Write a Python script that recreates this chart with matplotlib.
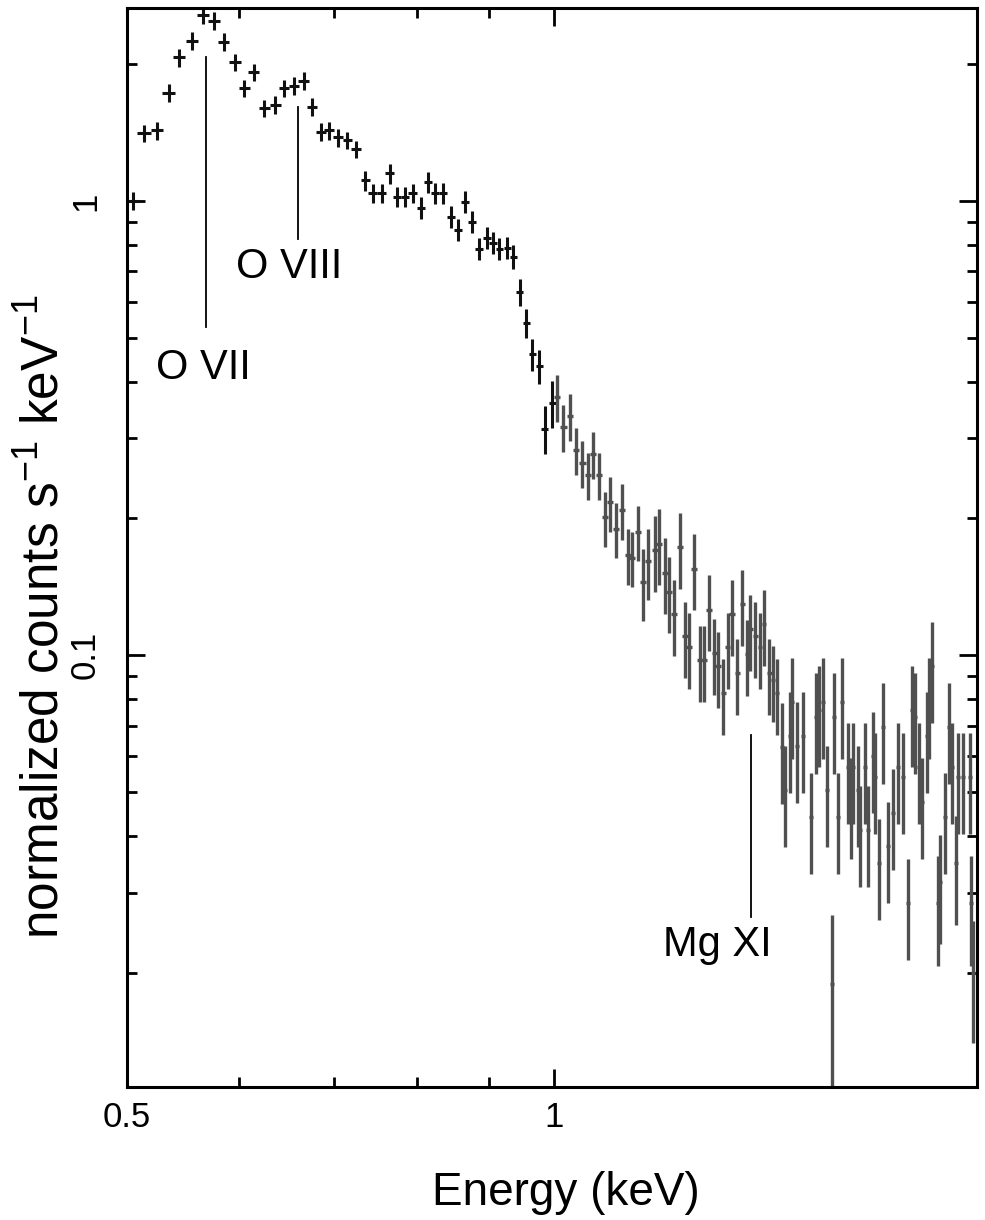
import numpy as np
import matplotlib
matplotlib.use("Agg")
import matplotlib.pyplot as plt
from matplotlib.ticker import FixedLocator, NullFormatter

plt.rcParams['font.family'] = ['Liberation Sans', 'DejaVu Sans']
plt.rcParams['mathtext.fontset'] = 'custom'
plt.rcParams['mathtext.rm'] = 'Liberation Sans'
plt.rcParams['mathtext.it'] = 'Liberation Sans:italic'

# spectrum: bin centre energy (keV), normalized counts s^-1 keV^-1, relative error
energy = [0.505, 0.514, 0.525, 0.535, 0.544, 0.556, 0.566, 0.576, 0.585, 0.596,
          0.605, 0.614, 0.625, 0.636, 0.645, 0.656, 0.666, 0.675, 0.685, 0.694,
          0.704, 0.715, 0.725, 0.736, 0.745, 0.756, 0.766, 0.775, 0.785, 0.795,
          0.806, 0.815, 0.824, 0.835, 0.846, 0.856, 0.865, 0.875, 0.885, 0.897,
          0.906, 0.915, 0.927, 0.936, 0.946, 0.956, 0.965, 0.976, 0.985, 0.997,
          1.005, 1.015, 1.026, 1.036, 1.047, 1.057, 1.065, 1.076, 1.086, 1.095,
          1.106, 1.117, 1.128, 1.135, 1.146, 1.156, 1.165, 1.178, 1.186, 1.198,
          1.205, 1.215, 1.227, 1.237, 1.245, 1.255, 1.267, 1.276, 1.286, 1.297,
          1.305, 1.316, 1.326, 1.335, 1.346, 1.357, 1.368, 1.375, 1.386, 1.397,
          1.406, 1.418, 1.427, 1.436, 1.448, 1.455, 1.467, 1.472, 1.484, 1.498,
          1.518, 1.530, 1.537, 1.548, 1.558, 1.570, 1.575, 1.586, 1.596, 1.612,
          1.620, 1.625, 1.638, 1.643, 1.657, 1.665, 1.678, 1.684, 1.695, 1.706,
          1.720, 1.734, 1.748, 1.762, 1.776, 1.788, 1.797, 1.808, 1.817, 1.832,
          1.838, 1.847, 1.865, 1.871, 1.886, 1.899, 1.908, 1.920, 1.927, 1.942,
          1.964, 1.968, 1.974]
counts = [1.00, 1.41, 1.43, 1.73, 2.07, 2.25, 2.57, 2.49, 2.24, 2.02,
          1.77, 1.92, 1.60, 1.63, 1.77, 1.79, 1.84, 1.61, 1.42, 1.43,
          1.38, 1.36, 1.30, 1.11, 1.04, 1.04, 1.15, 1.02, 1.02, 1.04,
          0.965, 1.10, 1.04, 1.04, 0.922, 0.863, 0.995, 0.899, 0.784, 0.829,
          0.808, 0.784, 0.788, 0.753, 0.630, 0.539, 0.460, 0.433, 0.315, 0.359,
          0.370, 0.318, 0.336, 0.283, 0.265, 0.249, 0.277, 0.249, 0.201, 0.217,
          0.190, 0.209, 0.166, 0.164, 0.187, 0.145, 0.161, 0.170, 0.176, 0.152,
          0.138, 0.123, 0.173, 0.110, 0.104, 0.155, 0.0975, 0.0975, 0.126, 0.101,
          0.0946, 0.0825, 0.104, 0.123, 0.0913, 0.1295, 0.1005, 0.114, 0.110, 0.104,
          0.117, 0.0913, 0.0881, 0.0825, 0.0627, 0.0504, 0.0663, 0.0788, 0.0630, 0.0663,
          0.0440, 0.0730, 0.0756, 0.0788, 0.0504, 0.0189, 0.0730, 0.0440, 0.0788, 0.0567,
          0.0475, 0.0567, 0.0504, 0.0412, 0.0567, 0.0412, 0.0599, 0.0539, 0.0348, 0.0694,
          0.0380, 0.0449, 0.0567, 0.0539, 0.0284, 0.0756, 0.0730, 0.0567, 0.0475, 0.0663,
          0.0788, 0.0946, 0.0284, 0.0316, 0.0440, 0.0694, 0.0567, 0.0348, 0.0539, 0.0539,
          0.0539, 0.0284, 0.0200]
rel_err = [0.045, 0.045, 0.045, 0.045, 0.045, 0.045, 0.045, 0.045, 0.045, 0.045,
           0.045, 0.045, 0.045, 0.045, 0.045, 0.045, 0.045, 0.045, 0.045, 0.045,
           0.045, 0.045, 0.045, 0.05, 0.05, 0.05, 0.05, 0.05, 0.05, 0.05,
           0.055, 0.055, 0.055, 0.055, 0.055, 0.055, 0.055, 0.055, 0.055, 0.055,
           0.055, 0.055, 0.055, 0.06, 0.07, 0.075, 0.08, 0.085, 0.12, 0.12,
           0.12, 0.12, 0.12, 0.12, 0.12, 0.12, 0.12, 0.12, 0.14, 0.14,
           0.14, 0.14, 0.14, 0.14, 0.14, 0.18, 0.18, 0.19, 0.19, 0.19,
           0.19, 0.19, 0.19, 0.19, 0.19, 0.19, 0.19, 0.19, 0.19, 0.19,
           0.19, 0.19, 0.19, 0.19, 0.19, 0.19, 0.19, 0.19, 0.19, 0.19,
           0.19, 0.19, 0.19, 0.19, 0.25, 0.25, 0.25, 0.25, 0.25, 0.25,
           0.25, 0.25, 0.25, 0.25, 0.25, 0.42, 0.25, 0.25, 0.25, 0.25,
           0.25, 0.25, 0.25, 0.25, 0.25, 0.25, 0.25, 0.25, 0.25, 0.25,
           0.25, 0.25, 0.25, 0.25, 0.25, 0.25, 0.25, 0.25, 0.25, 0.25,
           0.25, 0.25, 0.27, 0.27, 0.25, 0.25, 0.25, 0.27, 0.25, 0.25,
           0.25, 0.27, 0.30]
bin_half_width = 0.0055  # keV

# line identifications: label, energy, marker top, marker bottom, label x, label baseline
line_names = ['O VII', 'O VIII', 'Mg XI']
line_energy = [0.568, 0.660, 1.377]
line_top = [2.08, 1.61, 0.0666]
line_bottom = [0.528, 0.825, 0.0265]
label_x = [0.566, 0.651, 1.304]
label_y = [0.405, 0.677, 0.0218]

E = np.array(energy)
F = np.array(counts)
dF = np.array(rel_err) * F

fig = plt.figure(figsize=(9.85, 12.2), dpi=100)
ax = fig.add_axes([127 / 985, 1 - 1087 / 1220, 850 / 985, 1079 / 1220])

soft = E < 1.0
ax.errorbar(E[soft], F[soft], xerr=bin_half_width, yerr=dF[soft], fmt='none',
            ecolor='#111111', elinewidth=2.2, capsize=0)
ax.errorbar(E[~soft], F[~soft], xerr=bin_half_width, yerr=dF[~soft], fmt='none',
            ecolor='#505050', elinewidth=2.4, capsize=0)

for name, e0, top, bot, lx, ly in zip(line_names, line_energy, line_top,
                                      line_bottom, label_x, label_y):
    ax.plot([e0, e0], [bot, top], color='black', lw=1.3)
    ax.text(lx, ly, name, fontsize=30, ha='center', va='baseline')

ax.set_xscale('log')
ax.set_yscale('log')
ax.set_xlim(0.5, 1.987)
ax.set_ylim(0.0112, 2.66)

ax.xaxis.set_major_locator(FixedLocator([0.5, 1, 2]))
ax.xaxis.set_minor_locator(FixedLocator([0.6, 0.7, 0.8, 0.9]))
ax.set_xticklabels(['0.5', '1', '2'])
ax.xaxis.set_minor_formatter(NullFormatter())
ax.yaxis.set_major_locator(FixedLocator([0.1, 1]))
ax.yaxis.set_minor_locator(FixedLocator([0.02, 0.03, 0.04, 0.05, 0.06, 0.07, 0.08,
                                         0.09, 0.2, 0.3, 0.4, 0.5, 0.6, 0.7,
                                         0.8, 0.9, 2]))
ax.set_yticklabels(['0.1', '1'])
ax.yaxis.set_minor_formatter(NullFormatter())

ax.tick_params(which='both', direction='in', top=True, right=True, width=2.0)
ax.tick_params(which='major', length=13)
ax.tick_params(which='minor', length=7)
ax.tick_params(axis='x', labelsize=25, pad=10)
ax.tick_params(axis='y', labelsize=25, pad=18, labelrotation=90)
for lab in ax.get_yticklabels():
    lab.set_va('center')
for sp in ax.spines.values():
    sp.set_linewidth(2.2)

fig.text(566 / 985, 1 - 1193 / 1220, 'Energy (keV)', fontsize=33,
         ha='center', va='center')
fig.text(45 / 985, 1 - 617 / 1220, r'normalized counts s$^{-1}$ keV$^{-1}$',
         fontsize=37, rotation=90, ha='center', va='center')

fig.savefig('out.png', dpi=100)
